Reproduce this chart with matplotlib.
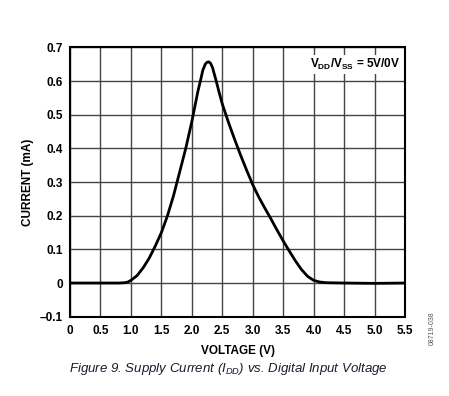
import matplotlib
matplotlib.use("Agg")
import matplotlib.pyplot as plt

plt.rcParams['font.family'] = ['Liberation Sans', 'DejaVu Sans']
plt.rcParams['mathtext.fontset'] = 'custom'
plt.rcParams['mathtext.rm'] = 'Liberation Sans:bold'
plt.rcParams['mathtext.bf'] = 'Liberation Sans:bold'
plt.rcParams['mathtext.it'] = 'Liberation Sans:italic'

voltage = [0, 0.5, 0.8, 0.9, 0.95, 1.0, 1.1, 1.2, 1.3, 1.4, 1.5, 1.6, 1.7, 1.8, 1.9,
           2.0, 2.1, 2.14, 2.18, 2.22, 2.25, 2.28, 2.31, 2.34, 2.37, 2.40, 2.45,
           2.5, 2.6, 2.7, 2.8, 2.9, 3.0, 3.1, 3.2, 3.3, 3.4, 3.5, 3.6, 3.7, 3.8,
           3.9, 4.0, 4.1, 4.2, 4.5, 5.0, 5.5]
current = [0, 0, 0.0, 0.001, 0.003, 0.008, 0.022, 0.045, 0.074, 0.11, 0.15, 0.2,
           0.26, 0.33, 0.40, 0.48, 0.57, 0.6, 0.632, 0.65, 0.656, 0.657, 0.652,
           0.64, 0.62, 0.6, 0.565, 0.532, 0.478, 0.428, 0.38, 0.335, 0.292, 0.255,
           0.222, 0.19, 0.157, 0.125, 0.095, 0.066, 0.04, 0.02, 0.008, 0.003,
           0.001, 0.0, -0.001, 0]

xticks = [0, 0.5, 1.0, 1.5, 2.0, 2.5, 3.0, 3.5, 4.0, 4.5, 5.0, 5.5]
xticklabels = ['0', '0.5', '1.0', '1.5', '2.0', '2.5', '3.0', '3.5', '4.0', '4.5', '5.0', '5.5']
yticks = [-0.1, 0, 0.1, 0.2, 0.3, 0.4, 0.5, 0.6, 0.7]
yticklabels = ['\u20130.1', '0', '0.1', '0.2', '0.3', '0.4', '0.5', '0.6', '0.7']

fig = plt.figure(figsize=(4.49, 3.96), dpi=100)
ax = fig.add_axes([0.156, 0.2003, 0.746, 0.680])

ax.plot(voltage, current, color='black', lw=2.0, solid_capstyle='round',
        solid_joinstyle='round', zorder=3)

ax.set_xlim(0, 5.5)
ax.set_ylim(-0.1, 0.7)
ax.set_xticks(xticks)
ax.set_xticklabels(xticklabels, fontsize=8.5, fontweight='bold')
ax.set_yticks(yticks)
ax.set_yticklabels(yticklabels, fontsize=8.5, fontweight='bold')
ax.tick_params(axis='both', length=0)
ax.tick_params(axis='x', pad=6)
ax.tick_params(axis='y', pad=5)
ax.grid(True, color='#444444', lw=1.0)
ax.set_axisbelow(True)
for s in ax.spines.values():
    s.set_color('black')
    s.set_linewidth(1.5)

ax.set_xlabel('VOLTAGE (V)', fontsize=8.5, fontweight='bold', labelpad=6)
ax.set_ylabel('CURRENT (mA)', fontsize=8.5, fontweight='bold', labelpad=4)

ax.text(0.985, 0.965, r'$\mathrm{V_{DD}/V_{SS}}$ = 5V/0V', transform=ax.transAxes,
        ha='right', va='top', fontsize=8.5, fontweight='bold',
        bbox=dict(facecolor='white', edgecolor='none', pad=1.5), zorder=4)

fig.text(0.508, 0.068, r'Figure 9. Supply Current (I$_{\mathit{DD}}$) vs. Digital Input Voltage',
         ha='center', va='center', fontsize=9.5, style='italic', color='#1a1a2e')
fig.text(0.963, 0.17, '08719-038', rotation=90, ha='center', va='center',
         fontsize=5, color='#555555')

fig.savefig('out.png', dpi=100)
